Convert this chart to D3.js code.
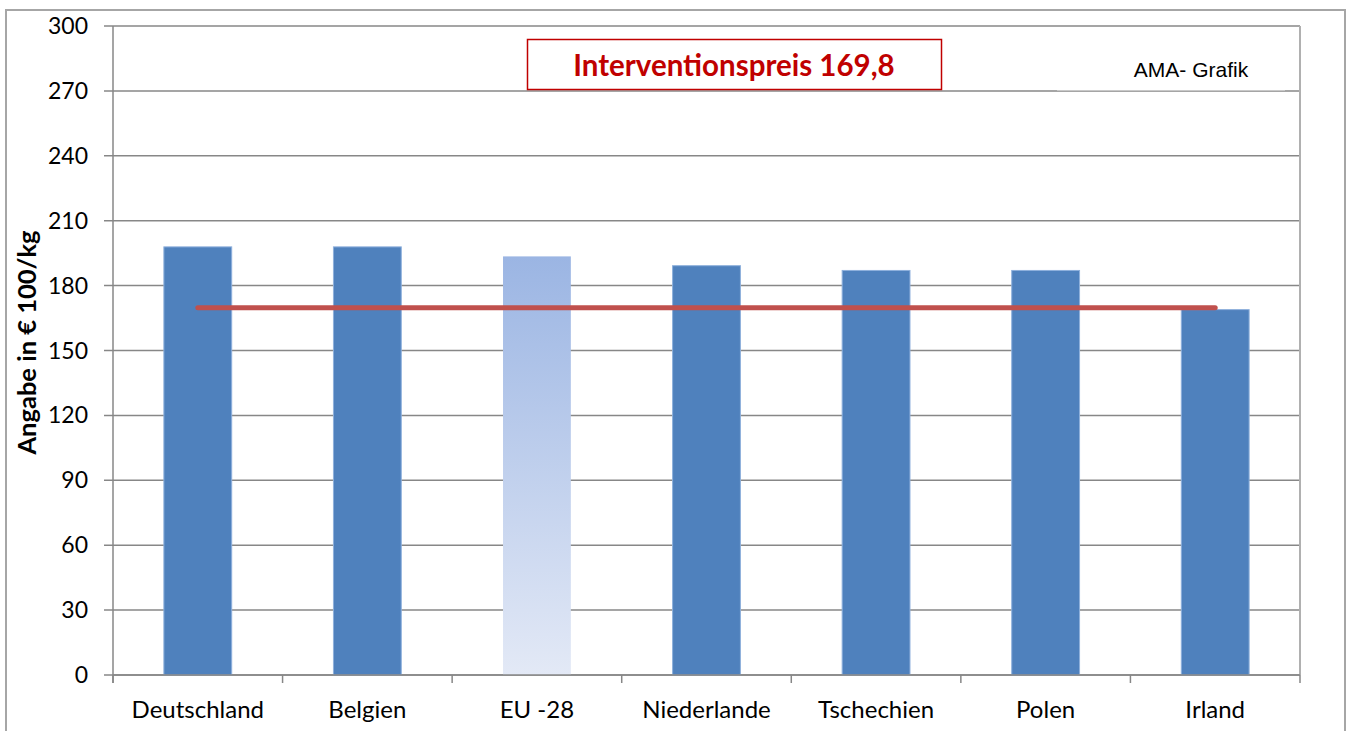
<!DOCTYPE html>
<html lang="de">
<head>
    <meta charset="UTF-8">
    <title>Interventionspreis</title>
    <script src="https://d3js.org/d3.v7.min.js"></script>
    <style>
        html, body {
            margin: 0;
            padding: 0;
            background: #ffffff;
            overflow: hidden;
        }
        svg text {
            font-family: Lato, "Open Sans", sans-serif;
        }
    </style>
</head>
<body>
    <svg id="chart" width="1351" height="731"></svg>

    <script>
        // data
        const countries = ["Deutschland", "Belgien", "EU -28", "Niederlande", "Tschechien", "Polen", "Irland"];
        const prices = [197.9, 197.9, 193.5, 189.2, 187.0, 187.0, 168.9];
        const intervention_price = 169.8;
        const y_ticks = [0, 30, 60, 90, 120, 150, 180, 210, 240, 270, 300];

        const svg = d3.select("#chart");
        const margin = { left: 113, right: 51, top: 26, bottom: 56 };
        const width = 1351, height = 731;

        // outer chart frame
        svg.append("rect")
            .attr("x", 6).attr("y", 10)
            .attr("width", 1339).attr("height", 740)
            .attr("fill", "none")
            .attr("stroke", "#a6a6a6")
            .attr("stroke-width", 2);

        const x = d3.scaleBand()
            .domain(countries)
            .range([margin.left, width - margin.right])
            .paddingInner(0)
            .paddingOuter(0);

        const y = d3.scaleLinear()
            .domain([0, 300])
            .range([height - margin.bottom, margin.top]);

        // gridlines
        svg.append("g")
            .selectAll("line")
            .data(y_ticks)
            .enter().append("line")
            .attr("x1", margin.left - 9)
            .attr("x2", width - margin.right)
            .attr("y1", d => y(d))
            .attr("y2", d => y(d))
            .attr("stroke", "#878787")
            .attr("stroke-width", 1.5);

        // plot area right border
        svg.append("line")
            .attr("x1", width - margin.right).attr("x2", width - margin.right)
            .attr("y1", margin.top).attr("y2", y(0))
            .attr("stroke", "#b0b0b0")
            .attr("stroke-width", 2);

        // y axis labels
        svg.append("g")
            .selectAll("text")
            .data(y_ticks)
            .enter().append("text")
            .attr("x", 88)
            .attr("y", d => y(d) + 8)
            .attr("text-anchor", "end")
            .attr("font-size", "23px")
            .attr("fill", "#000")
            .text(d => d);

        // y axis title
        svg.append("text")
            .attr("transform", `translate(36, ${(y(0) + y(300)) / 2 - 8}) rotate(-90)`)
            .attr("text-anchor", "middle")
            .attr("font-size", "25.5px")
            .attr("font-weight", "bold")
            .text("Angabe in € 100/kg");

        // gradient for EU -28
        const defs = svg.append("defs");
        const grad = defs.append("linearGradient")
            .attr("id", "eu_grad")
            .attr("x1", 0).attr("y1", 0).attr("x2", 0).attr("y2", 1);
        grad.append("stop").attr("offset", "0%").attr("stop-color", "#9bb5e3");
        grad.append("stop").attr("offset", "100%").attr("stop-color", "#e3e9f6");

        // bars
        const bar_w = x.bandwidth() * 0.4;
        svg.append("g")
            .selectAll("rect")
            .data(countries)
            .enter().append("rect")
            .attr("x", (d) => x(d) + x.bandwidth() / 2 - bar_w / 2)
            .attr("y", (d, i) => y(prices[i]))
            .attr("width", bar_w)
            .attr("height", (d, i) => y(0) - y(prices[i]))
            .attr("fill", d => d === "EU -28" ? "url(#eu_grad)" : "#4f81bd")
            .attr("stroke", d => d === "EU -28" ? "none" : "#8eb0dc")
            .attr("stroke-width", 1);

        // x axis line and category ticks
        svg.append("line")
            .attr("x1", margin.left).attr("x2", width - margin.right)
            .attr("y1", y(0)).attr("y2", y(0))
            .attr("stroke", "#878787").attr("stroke-width", 1.5);
        svg.append("line")
            .attr("x1", margin.left).attr("x2", margin.left)
            .attr("y1", margin.top).attr("y2", y(0) + 8)
            .attr("stroke", "#878787").attr("stroke-width", 1.5);

        const dividers = countries.map(d => x(d)).concat([width - margin.right]);
        svg.append("g")
            .selectAll("line")
            .data(dividers)
            .enter().append("line")
            .attr("x1", d => d).attr("x2", d => d)
            .attr("y1", y(0)).attr("y2", y(0) + 8)
            .attr("stroke", "#878787").attr("stroke-width", 1.5);

        svg.append("g")
            .selectAll("text")
            .data(countries)
            .enter().append("text")
            .attr("x", d => x(d) + x.bandwidth() / 2)
            .attr("y", 718)
            .attr("text-anchor", "middle")
            .attr("font-size", "24px")
            .attr("fill", "#000")
            .text(d => d);

        // intervention price line
        svg.append("line")
            .attr("x1", x(countries[0]) + x.bandwidth() / 2)
            .attr("x2", x(countries[countries.length - 1]) + x.bandwidth() / 2)
            .attr("y1", y(intervention_price))
            .attr("y2", y(intervention_price))
            .attr("stroke", "#c0504d")
            .attr("stroke-width", 5)
            .attr("stroke-linecap", "round");

        // title box
        svg.append("rect")
            .attr("x", 527.5).attr("y", 39.5)
            .attr("width", 414).attr("height", 50)
            .attr("fill", "#fff")
            .attr("stroke", "#c00000")
            .attr("stroke-width", 1.5);
        svg.append("text")
            .attr("x", 734).attr("y", 76)
            .attr("text-anchor", "middle")
            .attr("font-size", "29.5px")
            .attr("font-weight", "bold")
            .attr("fill", "#c00000")
            .text("Interventionspreis " + intervention_price.toFixed(1).replace(".", ","));

        // source note box
        svg.append("rect")
            .attr("x", 1057).attr("y", 45)
            .attr("width", 228).attr("height", 45)
            .attr("fill", "#fff");
        svg.append("line")
            .attr("x1", 1057).attr("x2", 1285)
            .attr("y1", 90.5).attr("y2", 90.5)
            .attr("stroke", "#c8c8c8").attr("stroke-width", 1);
        svg.append("text")
            .attr("x", 1191).attr("y", 77)
            .attr("text-anchor", "middle")
            .style("font-family", "'Liberation Sans', Arial, sans-serif")
            .attr("font-size", "21px")
            .attr("fill", "#000")
            .text("AMA- Grafik");
    </script>
</body>
</html>
